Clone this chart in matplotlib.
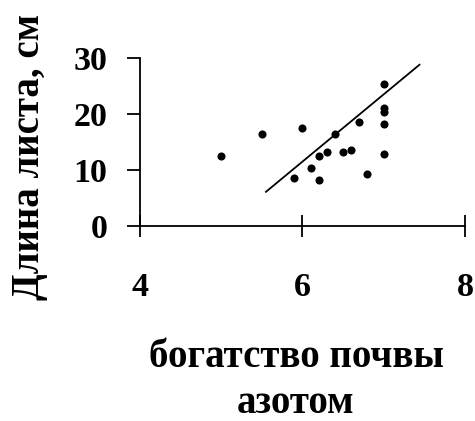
import matplotlib
matplotlib.use("Agg")
import matplotlib.pyplot as plt

# data
nitrogen = [5.0, 5.5, 6.0, 5.9, 6.1, 6.2, 6.2, 6.3, 6.4, 6.5, 6.6, 6.7, 6.8, 7.0, 7.0, 7.0, 7.0, 7.0]
leaf_len = [12.5, 16.4, 17.5, 8.6, 10.4, 12.5, 8.2, 13.3, 16.4, 13.3, 13.6, 18.6, 9.3, 25.4, 21.0, 20.3, 18.3, 12.9]
trend_x = [5.55, 7.44]
trend_y = [6.1, 28.8]
xticks = [4, 6, 8]
yticks = [0, 10, 20, 30]
xlabel = "богатство почвы\nазотом"
ylabel = "Длина листа, см"

plt.rcParams['font.family'] = ['Liberation Serif', 'DejaVu Serif']
plt.rcParams['font.weight'] = 'bold'

fig = plt.figure(figsize=(4.75, 4.21), dpi=100)
ax = fig.add_axes([140/475, 1-226/421, 325/475, 168/421])
ax.scatter(nitrogen, leaf_len, s=34, color='black', zorder=3, linewidths=0)
ax.plot(trend_x, trend_y, color='black', lw=1.3)
ax.set_xlim(4, 8)
ax.set_ylim(0, 30)
ax.set_xticks(xticks)
ax.set_yticks(yticks)
for s in ['top', 'right']:
    ax.spines[s].set_visible(False)
for s in ['left', 'bottom']:
    ax.spines[s].set_linewidth(1.3)
ax.tick_params(axis='x', direction='inout', length=16.5, width=1.3, pad=25, labelsize=24.5)
ax.tick_params(axis='y', direction='out', length=9.4, width=1.3, pad=14, labelsize=24.5)
ax.set_xlabel(xlabel, fontsize=28, fontweight='bold', linespacing=1.33)
ax.set_ylabel(ylabel, fontsize=28, fontweight='bold')
ax.xaxis.set_label_coords((296-140)/325, (226-339)/168)
ax.yaxis.set_label_coords((48-140)/325, (226-157)/168)
fig.savefig("out.png", dpi=100)
